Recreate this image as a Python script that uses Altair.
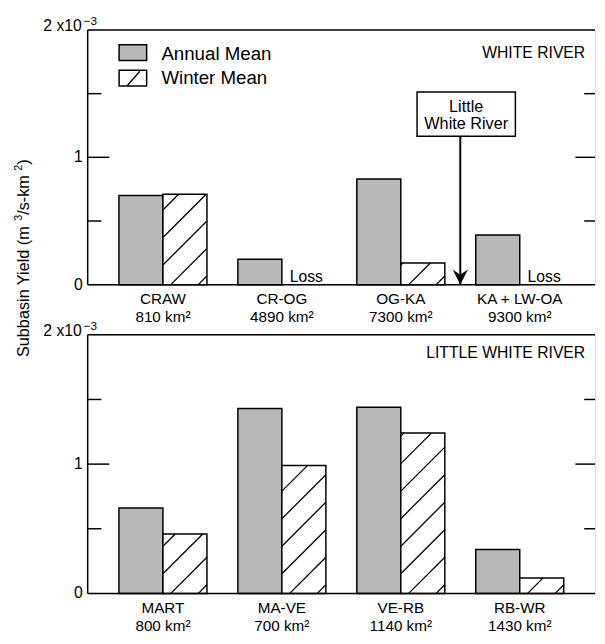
import altair as alt
import pandas as pd

# ---------------- data (yield in m^3/s-km^2) ----------------
white_sites = ["CRAW", "CR-OG", "OG-KA", "KA + LW-OA"]
white_areas = ["810 km²", "4890 km²", "7300 km²", "9300 km²"]
white_annual = [0.70e-3, 0.20e-3, 0.83e-3, 0.39e-3]
white_winter = [0.71e-3, None, 0.17e-3, None]   # None = "Loss"

little_sites = ["MART", "MA-VE", "VE-RB", "RB-WR"]
little_areas = ["800 km²", "700 km²", "1140 km²", "1430 km²"]
little_annual = [0.66e-3, 1.43e-3, 1.44e-3, 0.34e-3]
little_winter = [0.46e-3, 0.99e-3, 1.24e-3, 0.12e-3]

y_labels = [0, 1e-3]
y_ticks_major = [1e-3]
y_ticks_minor = [0.5e-3, 1.5e-3]

# ---------------- layout constants ----------------
W = 516
H_TOP = 259
H_BOT = 263
X_DOMAIN = [-0.633, 3.633]
Y_DOMAIN = [0, 0.002]
BAR_W = 0.37
FONT = "Liberation Sans"
GRAY = "#b8b8b8"
HATCH_D = 28.0

# Arial/Helvetica advance widths (1/1000 em) for laying out the axis title
AW = {'S': 667, 'u': 556, 'b': 556, 'a': 556, 's': 500, 'i': 222, 'n': 556, ' ': 278,
      'Y': 667, 'e': 556, 'l': 222, 'd': 556, '(': 333, 'm': 833, '3': 556, '/': 278,
      '-': 333, 'k': 500, '2': 556, ')': 333}


def tw(s, size):
    return sum(AW.get(c, 556) for c in s) * size / 1000.0


def hatch_segments(pos, vals, height):
    px_x = W / (X_DOMAIN[1] - X_DOMAIN[0])
    px_y = height / (Y_DOMAIN[1] - Y_DOMAIN[0])
    rows = []
    for p, v in zip(pos, vals):
        if v is None:
            continue
        w = BAR_W * px_x
        h = v * px_y
        c = -8.0
        while c > -w:
            c -= HATCH_D
        while c < h:
            u0 = max(0.0, -c)
            u1 = min(w, h - c)
            if u1 > u0 + 0.5:
                rows.append({"x": p + u0 / px_x, "x2": p + u1 / px_x,
                             "y": (u0 + c) / px_y, "y2": (u1 + c) / px_y})
            c += HATCH_D
    return pd.DataFrame(rows)


def txt(t, x, y, size, align="left", baseline="alphabetic", angle=0):
    kw = dict(align=align, baseline=baseline, fontSize=size, font=FONT, color="black")
    if angle:
        kw["angle"] = angle
    return alt.Chart(pd.DataFrame({"t": [t]})).mark_text(**kw).encode(
        text="t:N", x=alt.value(x), y=alt.value(y))


def panel(sites, areas, annual, winter, height, title, title_y, extra=None):
    pos = list(range(len(sites)))
    xs = alt.Scale(domain=X_DOMAIN, nice=False, zero=False)
    ys = alt.Scale(domain=Y_DOMAIN, nice=False, zero=True)
    X = lambda f: alt.X(f, scale=xs, axis=None)
    Y = lambda f: alt.Y(f, scale=ys, axis=None)

    bars = pd.DataFrame({
        "pos": pos, "site": sites, "area": areas,
        "annual": annual, "winter": winter,
    })
    bars["a0"] = bars["pos"] - BAR_W
    bars["w1"] = bars["pos"] + BAR_W
    bars["zero"] = 0.0

    annual_l = alt.Chart(bars).mark_rect(fill=GRAY, stroke="black", strokeWidth=1.5).encode(
        x=X("a0:Q"), x2="pos:Q", y=Y("annual:Q"), y2="zero:Q")

    wbars = bars.dropna(subset=["winter"])
    winter_l = alt.Chart(wbars).mark_rect(fill="white", stroke="black", strokeWidth=1.5).encode(
        x=X("pos:Q"), x2="w1:Q", y=Y("winter:Q"), y2="zero:Q")

    hatch = hatch_segments(pos, winter, height)
    hatch_l = alt.Chart(hatch).mark_rule(color="black", strokeWidth=1.3).encode(
        x=X("x:Q"), x2="x2:Q", y=Y("y:Q"), y2="y2:Q")

    loss = bars[bars["winter"].isna()]
    loss_l = alt.Chart(loss).mark_text(text="Loss", align="left", baseline="alphabetic",
                                       dx=8, dy=-3, fontSize=16, font=FONT).encode(
        x=X("pos:Q"), y=Y("zero:Q"))

    lab1 = alt.Chart(bars).mark_text(baseline="middle", dy=15, fontSize=15.5, font=FONT).encode(
        x=X("pos:Q"), y=Y("zero:Q"), text="site:N")
    lab2 = alt.Chart(bars).mark_text(baseline="middle", dy=33, fontSize=15.5, font=FONT).encode(
        x=X("pos:Q"), y=Y("zero:Q"), text="area:N")

    # frame: left, bottom, top lines
    frame_h = alt.Chart(pd.DataFrame({"v": list(Y_DOMAIN)})).mark_rule(
        color="black", strokeWidth=1.5).encode(y=Y("v:Q"))
    frame_v = alt.Chart(pd.DataFrame({"v": [X_DOMAIN[0]]})).mark_rule(
        color="black", strokeWidth=1.5).encode(x=X("v:Q"))

    ylab = alt.Chart(pd.DataFrame({"v": y_labels, "t": [format(v * 1000, "g") for v in y_labels]})).mark_text(
        align="right", baseline="middle", fontSize=16, font=FONT, dx=-5).encode(
        x=alt.value(0), y=Y("v:Q"), text="t:N")

    maj = pd.DataFrame({"v": y_ticks_major})
    mnr = pd.DataFrame({"v": y_ticks_minor})
    rk = dict(color="black", strokeWidth=1.5)
    tl_major = alt.Chart(maj).mark_rule(**rk).encode(y=Y("v:Q"), x=alt.value(0), x2=alt.value(22))
    tl_minor = alt.Chart(mnr).mark_rule(**rk).encode(y=Y("v:Q"), x=alt.value(0), x2=alt.value(14))
    tr_major = alt.Chart(maj).mark_rule(**rk).encode(y=Y("v:Q"), x=alt.value(W - 20), x2=alt.value(W))
    tr_minor = alt.Chart(mnr).mark_rule(**rk).encode(y=Y("v:Q"), x=alt.value(W - 11), x2=alt.value(W))

    exp_base = txt("2 x10", -6, 1, 16, align="right")
    exp_sup = txt("−3", -4, -5, 12)
    ttl = txt(title, W - 10, title_y, 16, align="right")

    layers = [annual_l, winter_l, hatch_l, loss_l, lab1, lab2, frame_h, frame_v, ylab,
              tl_major, tl_minor, tr_major, tr_minor, exp_base, exp_sup, ttl]
    if extra is not None:
        layers += extra(xs, ys)
    return alt.layer(*layers).properties(width=W, height=height)


def top_extras(xs, ys):
    X = lambda f: alt.X(f, scale=xs, axis=None)
    Y = lambda f: alt.Y(f, scale=ys, axis=None)
    out = []
    # legend
    out.append(alt.Chart(pd.DataFrame({"k": ["Annual Mean"]})).mark_rect(
        fill=GRAY, stroke="black", strokeWidth=1.5).encode(
        x=alt.value(32), x2=alt.value(60), y=alt.value(15), y2=alt.value(31)))
    out.append(alt.Chart(pd.DataFrame({"k": ["Winter Mean"]})).mark_rect(
        fill="white", stroke="black", strokeWidth=1.5).encode(
        x=alt.value(32), x2=alt.value(60), y=alt.value(41), y2=alt.value(57)))
    out.append(alt.Chart(pd.DataFrame({"k": ["/"]})).mark_rule(color="black", strokeWidth=1.3).encode(
        x=alt.value(40), x2=alt.value(53), y=alt.value(57), y2=alt.value(42)))
    out.append(txt("Annual Mean", 75, 31, 19))
    out.append(txt("Winter Mean", 75, 55, 19))
    # "Little White River" box + arrow
    out.append(alt.Chart(pd.DataFrame({"k": ["box"]})).mark_rect(
        fill="white", stroke="black", strokeWidth=1.5).encode(
        x=alt.value(335), x2=alt.value(435), y=alt.value(63), y2=alt.value(108)))
    out.append(txt("Little", 385, 78, 16.5, align="center", baseline="middle"))
    out.append(txt("White River", 385, 96, 16.5, align="center", baseline="middle"))
    arrow = pd.DataFrame({"x": [2.5], "y0": [0.0]})
    out.append(alt.Chart(arrow).mark_rule(color="black", strokeWidth=2).encode(
        x=X("x:Q"), y=Y("y0:Q"), y2=alt.value(108)))
    out.append(alt.Chart(arrow).mark_point(
        shape="M-1,-2 L0,0 L1,-2 L0,-1.3 Z", filled=True, color="black", opacity=1, size=240).encode(
        x=X("x:Q"), y=Y("y0:Q")))
    # y axis title (spans both panels), laid out piece by piece for the superscripts
    parts = [("Subbasin Yield (m ", 16.5, 0), ("3", 11, 1), ("/s-km ", 16.5, 0), ("2", 11, 1), (")", 16.5, 0)]
    total = sum(tw(s, f) for s, f, _ in parts)
    cx, cy = -65, 232
    yy = cy + total / 2
    for s, f, sup in parts:
        out.append(txt(s, cx - (5 if sup else 0), yy, f, align="left", baseline="middle", angle=270))
        yy -= tw(s, f)
    return out


top = panel(white_sites, white_areas, white_annual, white_winter, H_TOP, "WHITE RIVER", 29, top_extras)
bottom = panel(little_sites, little_areas, little_annual, little_winter, H_BOT, "LITTLE WHITE RIVER", 24)

chart = alt.vconcat(top, bottom, spacing=51, bounds="flush").properties(
    padding={"left": 4, "top": 1, "right": 0, "bottom": -1},
    background="white",
).configure_view(stroke=None).configure(font=FONT)

chart.save("out.html", embed_options={"renderer": "svg", "actions": False})
